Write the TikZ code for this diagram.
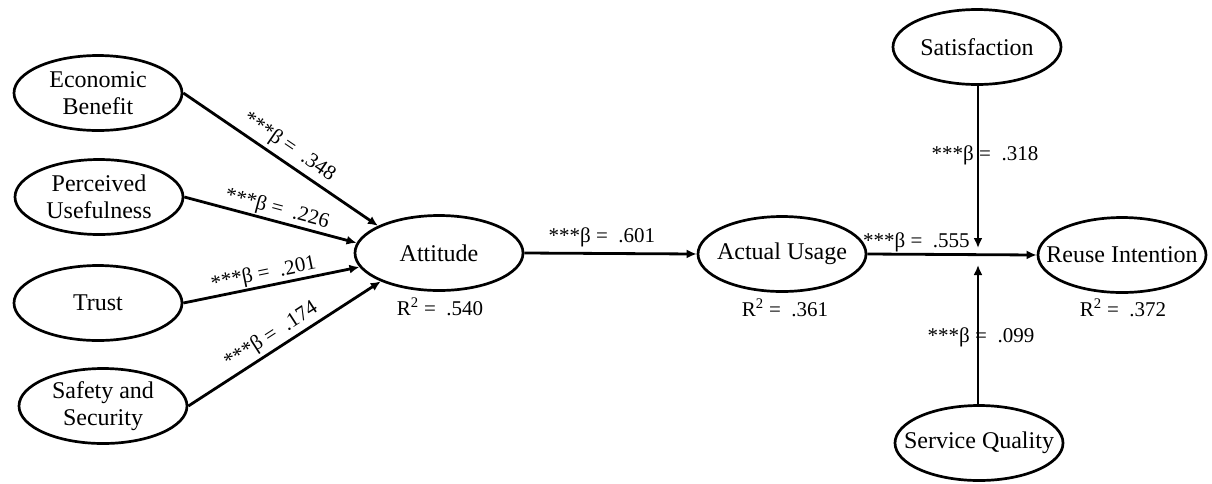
\documentclass[tikz,border=0pt]{standalone}
\usepackage{fontspec}
\setmainfont{Liberation Serif}
\usetikzlibrary{arrows.meta,shapes.geometric}

\tikzset{
  construct/.style={ellipse, draw, line width=2.7pt, inner sep=0pt,
    minimum width=168pt, minimum height=75pt},
  nodetext/.style={align=center, inner sep=0pt,
    font=\fontsize{24}{27}\selectfont},
  path/.style={line width=2.8pt, -{Latex[length=10pt,width=9pt]}},
  coef/.style={font=\fontsize{21}{23}\selectfont, inner sep=1pt},
  rsq/.style={font=\fontsize{21}{23}\selectfont}
}

\begin{document}
\begin{tikzpicture}[x=1pt, y=-1pt]
  \useasboundingbox (0,0) rectangle (1212,483);

  % exogenous constructs
  \node[construct, label={[nodetext]center:Economic\\Benefit}]   (eb) at (98,93)   {};
  \node[construct, label={[nodetext]center:Perceived\\Usefulness}] (pu) at (99,197)  {};
  \node[construct, label={[nodetext]center:Trust}]               (tr) at (98,303)  {};
  \node[construct, label={[nodetext]center:Safety and\\Security}] (ss) at (103,406) {};

  % mediators and outcome
  \node[construct, label={[nodetext]center:Attitude}]        (att) at (439,253)  {};
  \node[construct, label={[nodetext]center:Actual Usage}]    (au)  at (782,254)  {};
  \node[construct, label={[nodetext]center:Reuse Intention}] (ri)  at (1122,255) {};

  % moderators
  \node[construct, label={[nodetext]center:Satisfaction}]    (sat) at (977,47)  {};
  \node[construct, label={[nodetext]center:Service Quality}] (sq)  at (979,443) {};

  % explained variance
  \node[rsq] (r1) at (440,307)  {R\textsuperscript{2} = \ .540};
  \node[rsq] (r2) at (785,308)  {R\textsuperscript{2} = \ .361};
  \node[rsq] (r3) at (1123,308) {R\textsuperscript{2} = \ .372};

  % paths into Attitude
  \draw[path] (eb.east) -- (att.156)
    node[coef, pos=0.5, above=3pt, sloped] {***β = \ .348};
  \draw[path] (pu.east) -- (att.173)
    node[coef, pos=0.52, above=0pt, sloped] {***β = \ .226};
  \draw[path] (tr.east) -- (att.190)
    node[coef, pos=0.47, above=0pt, sloped] {***β = \ .201};
  \draw[path] (ss.east) -- (att.206)
    node[coef, pos=0.47, above=2pt, sloped] {***β = \ .174};

  % structural chain
  \draw[path] (att.east) -- (au.west)
    node[coef, pos=0.45, above=4pt] {***β = \ .601};
  \draw[path] (au.east) -- (ri.west)
    node[coef, pos=0.29, above=0pt] {***β = \ .555};

  % moderating effects on the usage -> intention path
  \coordinate (mtop) at (978,248);
  \coordinate (mbot) at (978,265);
  \draw[path] (sat.south -| mtop) -- (mtop)
    node[coef, pos=0.43, xshift=7pt] {***β = \ .318};
  \draw[path] (sq.north -| mbot) -- (mbot)
    node[coef, pos=0.48, xshift=3pt] {***β = \ .099};
\end{tikzpicture}
\end{document}
